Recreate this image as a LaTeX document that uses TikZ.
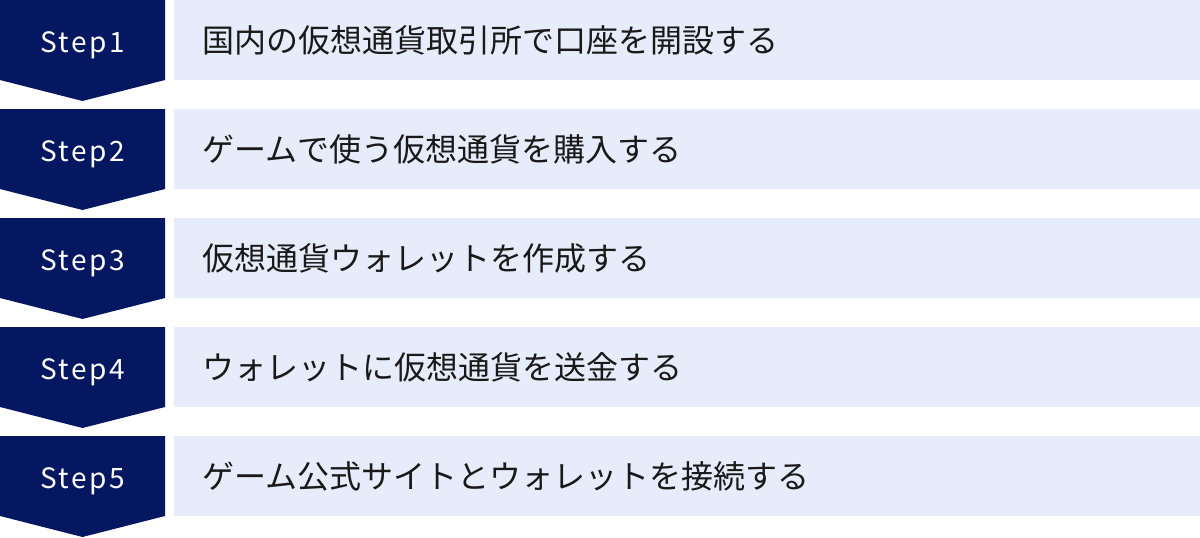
\documentclass[tikz,border=0pt]{standalone}
\usepackage{fontspec}
\usepackage{xcolor}
\usepackage{tikz}
\newfontfamily\jpfont{Noto Sans CJK JP}
\newfontfamily\stepfont[LetterSpace=9]{Noto Sans CJK JP}
\definecolor{stepnavy}{RGB}{4,23,96}
\definecolor{rowblue}{RGB}{230,236,250}
\begin{document}
\begin{tikzpicture}[x=1pt,y=-1pt]
\tikzstyle{every node}+=[inner sep=0pt]
\tikzstyle{steplabel}=[anchor=base,text=white,font=\stepfont\fontsize{28}{28}\selectfont]
\tikzstyle{rowtext}=[anchor=west,text=black!90,font=\jpfont\fontsize{32}{32}\selectfont]
\useasboundingbox (0,0) rectangle (1200,538);
% row 1
\fill [stepnavy] (0,0) -- (165,0) -- (165,80) -- (82.5,101) -- (0,80) -- cycle;
\fill [rowblue] (174,0) rectangle (1200,80);
\node [steplabel] (s1) at (82.5,52) {Step1};
\node [rowtext] (t1) at (202,40) {国内の仮想通貨取引所で口座を開設する};
% row 2
\fill [stepnavy] (0,109) -- (165,109) -- (165,189) -- (82.5,210) -- (0,189) -- cycle;
\fill [rowblue] (174,109) rectangle (1200,189);
\node [steplabel] (s2) at (82.5,161) {Step2};
\node [rowtext] (t2) at (202,149) {ゲームで使う仮想通貨を購入する};
% row 3
\fill [stepnavy] (0,218) -- (165,218) -- (165,298) -- (82.5,319) -- (0,298) -- cycle;
\fill [rowblue] (174,218) rectangle (1200,298);
\node [steplabel] (s3) at (82.5,270) {Step3};
\node [rowtext] (t3) at (202,258) {仮想通貨ウォレットを作成する};
% row 4
\fill [stepnavy] (0,327) -- (165,327) -- (165,407) -- (82.5,428) -- (0,407) -- cycle;
\fill [rowblue] (174,327) rectangle (1200,407);
\node [steplabel] (s4) at (82.5,379) {Step4};
\node [rowtext] (t4) at (202,367) {ウォレットに仮想通貨を送金する};
% row 5
\fill [stepnavy] (0,436) -- (165,436) -- (165,516) -- (82.5,537) -- (0,516) -- cycle;
\fill [rowblue] (174,436) rectangle (1200,516);
\node [steplabel] (s5) at (82.5,488) {Step5};
\node [rowtext] (t5) at (202,476) {ゲーム公式サイトとウォレットを接続する};
\end{tikzpicture}
\end{document}
